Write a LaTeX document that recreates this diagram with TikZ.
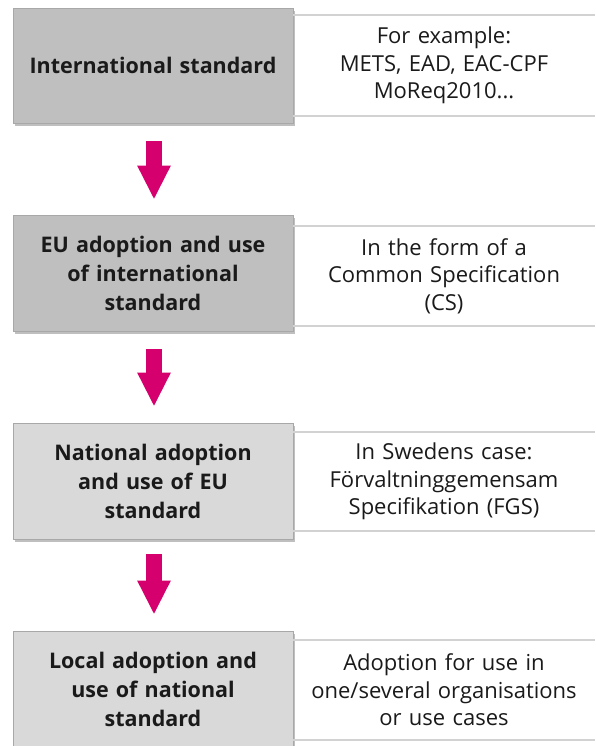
\documentclass[tikz,border=0pt]{standalone}
\usepackage{fontspec}
\setmainfont{Open Sans}
\usetikzlibrary{arrows.meta,shadows}
\definecolor{stepdark}{HTML}{BFBFBF}
\definecolor{steplight}{HTML}{D9D9D9}
\definecolor{stepedge}{HTML}{A8A8A8}
\definecolor{flowpink}{HTML}{D5006D}
\definecolor{rulegrey}{HTML}{D2D2D2}
\definecolor{inkblack}{HTML}{1A1A1A}

\begin{document}
\begin{tikzpicture}[x=1pt,y=-1pt,
  stepbox/.style={rectangle, draw=stepedge, line width=0.8pt,
    minimum width=280pt, inner sep=0pt, align=center, text width=276pt,
    font=\fontsize{21.5}{29}\selectfont\bfseries, text=inkblack,
    drop shadow={shadow xshift=1.5pt, shadow yshift=-3pt, opacity=0.25, fill=black}},
  descbox/.style={rectangle, minimum width=302pt, inner sep=0pt,
    align=center, text width=302pt,
    font=\fontsize{22}{27.5}\selectfont, text=inkblack},
  rule/.style={draw=rulegrey, line width=1.5pt},
  flow/.style={draw=flowpink, line width=16pt,
    -{Triangle[width=31pt,length=34pt]}}
]
\useasboundingbox (0,0) rectangle (595,746);
\fill[white] (0,0) rectangle (595,746);

% step boxes on the left
\node[stepbox, fill=stepdark, minimum height=115pt] (b1) at (153,65.5)
  {International standard};
\node[stepbox, fill=stepdark, minimum height=116pt] (b2) at (153,273)
  {EU adoption and use\\of international\\standard};
\node[stepbox, fill=steplight, minimum height=116pt] (b3) at (153,481)
  {National adoption\\and use of EU\\standard};
\node[stepbox, fill=steplight, minimum height=116pt] (b4) at (153,689)
  {Local adoption and\\use of national\\standard};

% descriptions on the right, between two rules
\node[descbox, minimum height=101pt] (d1) at (444,65.5)
  {For example:\\METS, EAD, EAC-CPF\\MoReq2010...};
\node[descbox, minimum height=100pt] (d2) at (444,276)
  {In the form of a\\Common Specification\\(CS)};
\node[descbox, minimum height=99pt] (d3) at (444,481.5)
  {In Swedens case:\\Förvaltninggemensam\\Specifikation (FGS)};
\node[descbox, minimum height=100pt] (d4) at (444,690)
  {Adoption for use in\\one/several organisations\\or use cases};

\foreach \d in {d1,d2,d3,d4}{
  \draw[rule] (\d.north west) -- (\d.north east);
  \draw[rule] (\d.south west) -- (\d.south east);
}

% flow arrows between the steps
\draw[flow] ([xshift=1pt,yshift=-18pt]b1.south) -- ([xshift=1pt,yshift=15pt]b2.north);
\draw[flow] ([xshift=1pt,yshift=-18pt]b2.south) -- ([xshift=1pt,yshift=16pt]b3.north);
\draw[flow] ([xshift=1pt,yshift=-15pt]b3.south) -- ([xshift=1pt,yshift=16pt]b4.north);
\end{tikzpicture}
\end{document}
